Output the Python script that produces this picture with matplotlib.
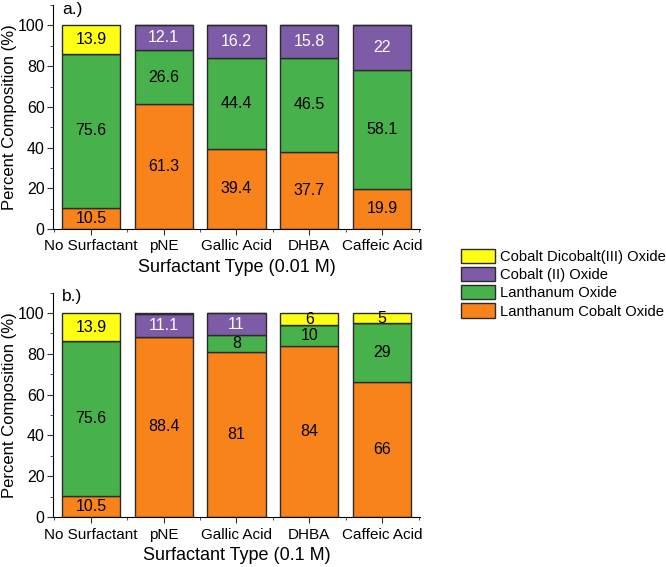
import matplotlib
matplotlib.use("Agg")
import matplotlib.pyplot as plt
from matplotlib.patches import Patch
from matplotlib.ticker import MultipleLocator
import numpy as np

plt.rcParams["font.family"] = ["Liberation Sans", "DejaVu Sans"]

categories = ["No Surfactant", "pNE", "Gallic Acid", "DHBA", "Caffeic Acid"]
series = ["Lanthanum Cobalt Oxide", "Lanthanum Oxide", "Cobalt (II) Oxide",
          "Cobalt Dicobalt(III) Oxide"]
colors = ["#F8831A", "#47B24B", "#7E5BA7", "#FFFF14"]
text_colors = ["black", "black", "white", "black"]

# panel a, 0.01 M
a_lco = [10.5, 61.3, 39.4, 37.7, 19.9]
a_lao = [75.6, 26.6, 44.4, 46.5, 58.1]
a_coo = [0, 12.1, 16.2, 15.8, 22]
a_co3 = [13.9, 0, 0, 0, 0]

# panel b, 0.1 M
b_lco = [10.5, 88.4, 81, 84, 66]
b_lao = [75.6, 0, 8, 10, 29]
b_coo = [0, 11.1, 11, 0, 0]
b_co3 = [13.9, 0.5, 0, 6, 5]

fig = plt.figure(figsize=(6.66, 5.67), dpi=100)
ax_a = fig.add_axes([0.0796, 0.596, 0.551, 0.395])
ax_b = fig.add_axes([0.0796, 0.088, 0.551, 0.396])

panels = [
    (ax_a, [a_lco, a_lao, a_coo, a_co3], "Surfactant Type (0.01 M)", "a.)"),
    (ax_b, [b_lco, b_lao, b_coo, b_co3], "Surfactant Type (0.1 M)", "b.)"),
]

x = np.arange(len(categories))
for ax, data, xlabel, tag in panels:
    bottom = np.zeros(len(categories))
    for vals, col, tcol in zip(data, colors, text_colors):
        vals = np.array(vals, dtype=float)
        ax.bar(x, vals, 0.8, bottom=bottom, color=col, edgecolor="#2b2b2b",
               linewidth=1.0)
        for xi, v, b in zip(x, vals, bottom):
            if v >= 1:
                ax.text(xi, b + v / 2, f"{v:g}", ha="center", va="center",
                        fontsize=11.5, color=tcol)
        bottom += vals
    ax.set_xlim(-0.52, 4.52)
    ax.set_ylim(0, 110)
    ax.set_xticks(x)
    ax.set_xticklabels(categories, fontsize=11)
    ax.xaxis.set_minor_locator(MultipleLocator(1, offset=0.5))
    ax.set_yticks([0, 20, 40, 60, 80, 100])
    ax.yaxis.set_minor_locator(MultipleLocator(10))
    ax.tick_params(axis="y", labelsize=11.5, pad=2)
    ax.tick_params(which="both", direction="out", color="#333333")
    ax.tick_params(which="major", length=4)
    ax.tick_params(which="minor", length=2.5)
    ax.spines["top"].set_visible(False)
    ax.spines["right"].set_visible(False)
    ax.set_xlabel(xlabel, fontsize=13, labelpad=4)
    ax.set_ylabel("Percent Composition (%)", fontsize=12, labelpad=1)
    ax.text(-0.4, 108, tag, fontsize=12.5, ha="left", va="center")

handles = [Patch(facecolor=c, edgecolor="#2b2b2b", linewidth=1.0)
           for c in colors[::-1]]
fig.legend(handles, series[::-1], loc="upper left",
           bbox_to_anchor=(0.683, 0.572), frameon=False, fontsize=10.6,
           handlelength=2.3, handleheight=1.1, labelspacing=0.22,
           handletextpad=0.35, borderaxespad=0)

fig.savefig("out.png", dpi=100)
